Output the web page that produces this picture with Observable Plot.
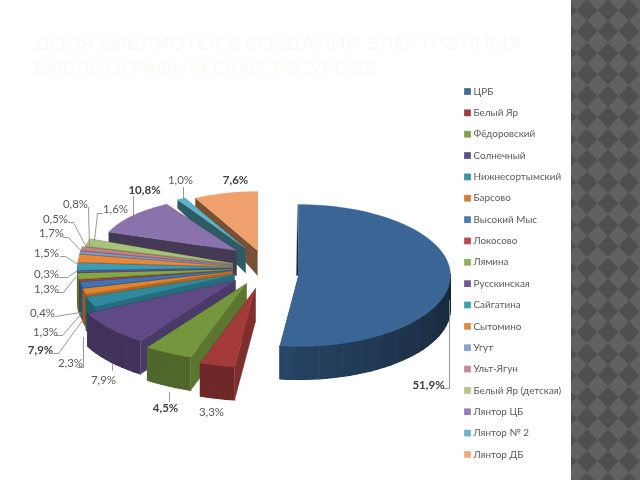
<!DOCTYPE html>
<html><head><meta charset="utf-8">
<style>
html,body{margin:0;padding:0;background:#fff;width:640px;height:480px;overflow:hidden}
#chart{position:absolute;left:0;top:0;width:640px;height:480px;filter:blur(0.45px)}
#strip{position:absolute;left:571px;top:0;width:69px;height:480px;background-color:#585858;
background-image:url("data:image/svg+xml,%3Csvg xmlns='http://www.w3.org/2000/svg' width='21' height='21.5'%3E%3Cg fill='%234f4f4f'%3E%3Cpolygon points='16,-0.75 26.5,10 16,20.75 5.5,10'/%3E%3Cpolygon points='-5,-0.75 5.5,10 -5,20.75 -15.5,10'/%3E%3C/g%3E%3Cg fill='%23616161'%3E%3Cpolygon points='5.5,10 16,20.75 5.5,31.5 -5,20.75'/%3E%3Cpolygon points='5.5,-11.5 16,-0.75 5.5,10 -5,-0.75'/%3E%3Cpolygon points='26.5,10 37,20.75 26.5,31.5 16,20.75'/%3E%3Cpolygon points='26.5,-11.5 37,-0.75 26.5,10 16,-0.75'/%3E%3C/g%3E%3C/svg%3E");
background-size:21px 21.5px;filter:blur(0.7px)}
</style>
<script src="https://cdn.jsdelivr.net/npm/d3@7"></script>
<script src="https://cdn.jsdelivr.net/npm/@observablehq/plot@0.6"></script>
</head><body><div id="chart"></div><div id="strip"></div>
<script>
// ---- data ----
const titleLines = ["ДОЛЯ БИБЛИОТЕК В СОЗДАНИИ ЭЛЕКТРОННЫХ","БИБЛИОГРАФИЧЕСКИХ РЕСУРСОВ"];
const categories = ["ЦРБ","Белый Яр","Фёдоровский","Солнечный","Нижнесортымский","Барсово","Высокий Мыс","Локосово","Лямина","Русскинская","Сайгатина","Сытомино","Угут","Ульт-Ягун","Белый Яр (детская)","Лянтор ЦБ","Лянтор № 2","Лянтор ДБ"];
const sliceShares = [51.9,3.3,4.5,7.9,2.3,1.2,1.3,0.4,1.3,0.3,1.5,1.7,0.5,0.8,1.6,10.8,1.0,7.6];
const printedLabels = ["51,9%","3,3%","4,5%","7,9%","2,3%","7,9%","1,3%","0,4%","1,3%","0,3%","1,5%","1,7%","0,5%","0,8%","1,6%","10,8%","1,0%","7,6%"];
const boldLabels = [0,2,5,15,17];

// ---- style and layout ----
const topColors = ["#3a6595","#a23b39","#76963e","#5f4a85","#2f8aa0","#e0842e","#3f74b5","#a83f3c","#85a845","#6b5590","#3a9db5","#e8873a","#7f9cc5","#c27f85","#a9c27a","#8a73ac","#5cb3c8","#f0a06c"];
const legendColors = ["#426a98","#9c3d40","#83a04a","#5d4d88","#3a93a5","#d0823a","#4a7db0","#b84c55","#8fb054","#6a5a90","#3fa0ae","#e08c40","#88a5c5","#c58a95","#b3c68a","#8f80b5","#72b5c8","#f0aa80"];
// apex x, apex y, radius x, radius y of each slice
const sliceFrames = [[298,275,152,71],[255,288,170,79],[246,283,172,78],[235,280,165,74],[234,274,156,72],
 [232,271,154,72],[232,270,154,72],[232,270,154,72],[231,269,154,72],[231,268,154,72],[231,267,154,72],[231,266,154,72],[231,265,154,72],[231,264,154,72],[232,263,152,72],
 [236,250,136,54],[245,248,132,57],[257,250,135,59]];
const labelSpots = [[428,385],[211,412],[165,408],[103,380],[70,363],[40,350],[45,332],[42,313],[46,289],[46,274],[46,253],[51,233],[55,219],[75,204],[115,209],[144,190],[180,180],[235,180]];
// bends of each leader, running from the label to the slice's rim
const leaderBends = [[[443,388],[449,388]],[],[[169,401]],[[112,370]],[[77,367],[83,367]],[[53,353],[58,353]],[[56,335],[62,335]],[[55,316]],[[58,292],[63,292]],[[59,277],[67,277]],[[60,256],[65,256]],[[63,237],[68,237]],[[68,222],[73,222]],[[88,207]],[[102,213],[97,213]],[[133,196]],[[183,187]],[]];
const leaderRim = [[449,300],null,[169,392],[112,363],[83,337],[82,320],[81,313],[80,312],[75,277],[77,270],[79,265],[83,253],[86,247],[89,247],[94,240],[133,215],[183,198],null];

const total = d3.sum(sliceShares);
const cum = d3.cumsum(sliceShares);
const rad = d => d * Math.PI / 180;
const angles = sliceShares.map((v,i)=>[((cum[i]-v)/total)*360,(cum[i]/total)*360]);
const depth = y => Math.max(8,Math.min(33,8+(y-197)*0.32));
const pt = (f,a)=>[f[0]+f[2]*Math.sin(rad(a)),f[1]-f[3]*Math.cos(rad(a))];
const down = p=>[p[0],p[1]+depth(p[1])];
const shade = (c,k)=>d3.interpolateRgb(c,"#000")(k);

const rows=[]; let pid=0;
const poly=(pts,fill,sw)=>{const id=pid++;for(const p of pts)rows.push({id,x:p[0],y:p[1],fill,sw});};
const order=d3.range(17,0,-1).concat([0]);
for(const i of order){
  const f=sliceFrames[i],[a0,a1]=angles[i],c=topColors[i],apex=[f[0],f[1]];
  const p0=pt(f,a0),p1=pt(f,a1);
  poly([apex,p1,down(p1),down(apex)],shade(c,.4),0.3);
  poly([apex,p0,down(p0),down(apex)],shade(c,i>=15?.5:.22),0.3);
  const steps=Math.max(2,Math.ceil((a1-a0)/3));
  for(let s=0;s<steps;s++){
    const u=a0+(a1-a0)*s/steps,v=a0+(a1-a0)*(s+1)/steps;
    if(v<90||u>270)continue;
    const k=u>=180?.32:.62-.27*(u-90)/90;
    const a=pt(f,u),b=pt(f,v);
    poly([a,b,down(b),down(a)],shade(c,k),1.2);
  }
  if(i===0)poly([[p0[0]-1,p0[1]],[apex[0]-2,apex[1]],apex],shade(c,.6),0.3);
  const top=[apex];
  const n=Math.max(2,Math.ceil((a1-a0)/2));
  for(let s=0;s<=n;s++)top.push(pt(f,a0+(a1-a0)*s/n));
  poly(top,c,0.3);
}

const labelRows=printedLabels.map((t,i)=>({t,x:labelSpots[i][0],y:labelSpots[i][1],b:boldLabels.includes(i)}));
const leaderRows=leaderBends.flatMap((b,i)=>{
  const tail=leaderRim[i]?[leaderRim[i]]:[];
  const pts=b.concat(tail);
  return pts.length>1?pts.map(p=>({i,x:p[0],y:p[1]})):[];
});
const legendTop=91,legendStep=21.35;
const legendRows=categories.map((name,i)=>({name,y:legendTop+i*legendStep,c:legendColors[i]}));

const plot=Plot.plot({
  width:640,height:480,margin:0,
  x:{domain:[0,640],range:[0,640],axis:null},
  y:{domain:[0,480],range:[0,480],axis:null},
  color:{type:"identity"},
  style:{background:"transparent"},
  marks:[
    Plot.text(titleLines,{x:34,y:(d,i)=>[43,68][i],text:d=>d,textAnchor:"start",fontSize:20,fill:"#fafaf6",fontFamily:"Lato",fontWeight:600,letterSpacing:"1.8px"}),
    Plot.line(rows,{x:"x",y:"y",z:"id",fill:"fill",stroke:"fill",strokeWidth:"sw",curve:"linear"}),
    Plot.line(leaderRows,{x:"x",y:"y",z:"i",stroke:"#8c8c8c",strokeWidth:0.9,curve:"linear"}),
    Plot.text(labelRows.filter(d=>!d.b),{x:"x",y:"y",text:"t",fontSize:11.5,fill:"#595959",fontFamily:"Lato"}),
    Plot.text(labelRows.filter(d=>d.b),{x:"x",y:"y",text:"t",fontSize:11.5,fontWeight:700,fill:"#404040",fontFamily:"Lato"}),
    Plot.dot(legendRows,{x:467,y:"y",symbol:"square",r:3.8,fill:"c"}),
    Plot.text(legendRows,{x:473,y:"y",text:"name",textAnchor:"start",fontSize:9.9,fill:"#595959",fontFamily:"Lato"})
  ]
});
document.getElementById("chart").append(plot);
</script></body></html>
